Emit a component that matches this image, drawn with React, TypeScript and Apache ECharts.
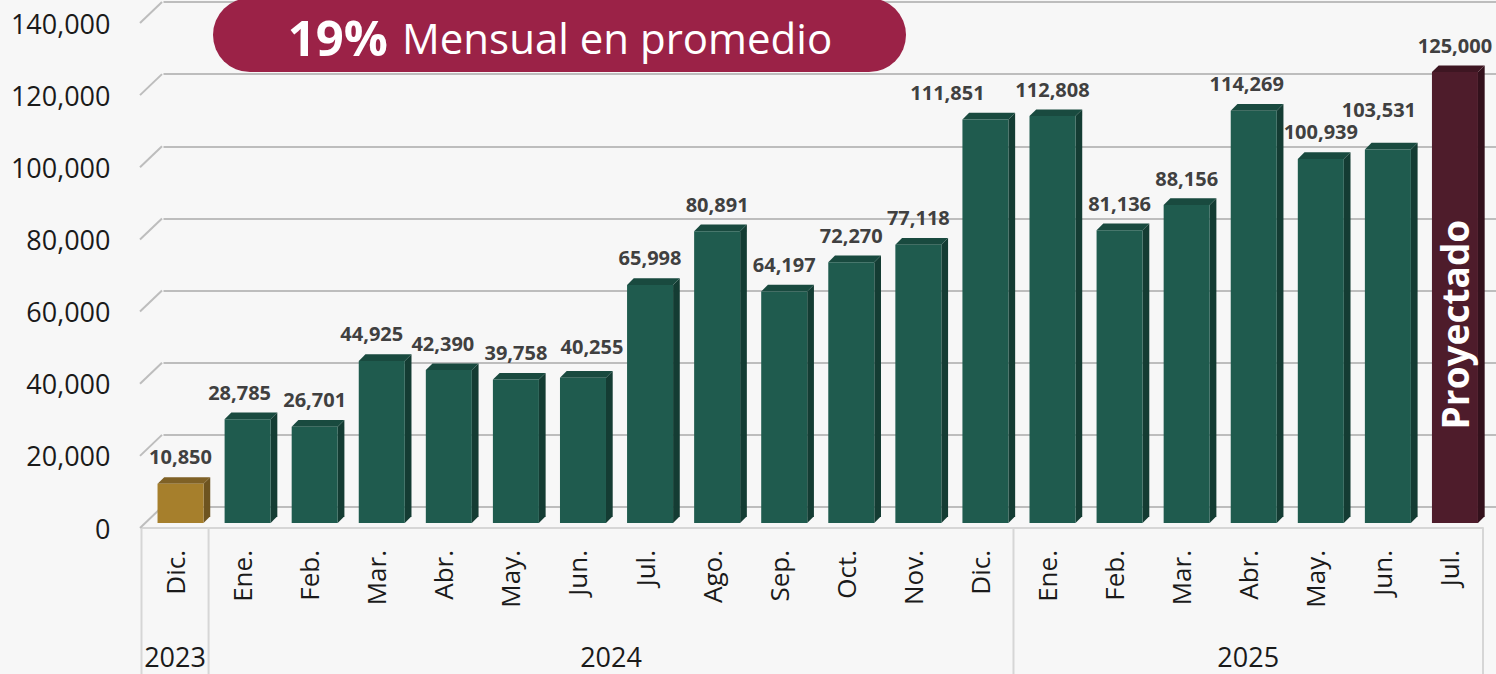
import React, { useEffect, useRef } from 'react';
import * as echarts from 'echarts';

const months = ['Dic.', 'Ene.', 'Feb.', 'Mar.', 'Abr.', 'May.', 'Jun.', 'Jul.', 'Ago.', 'Sep.', 'Oct.', 'Nov.', 'Dic.', 'Ene.', 'Feb.', 'Mar.', 'Abr.', 'May.', 'Jun.', 'Jul.'];
const values = [10850, 28785, 26701, 44925, 42390, 39758, 40255, 65998, 80891, 64197, 72270, 77118, 111851, 112808, 81136, 88156, 114269, 100939, 103531, 125000];
const kinds = ['base', 'real', 'real', 'real', 'real', 'real', 'real', 'real', 'real', 'real', 'real', 'real', 'real', 'real', 'real', 'real', 'real', 'real', 'real', 'proj'];
const years = ['2023', '2024', '2025'];
const yearStart = [0, 1, 13];
const yearEnd = [0, 12, 19];
const yTicks = [0, 20000, 40000, 60000, 80000, 100000, 120000, 140000];
const titleBold = '19%';
const titleRest = 'Mensual en promedio';
const projectedText = 'Proyectado';

// label nudges (px) to avoid overlaps, as in the original
const labelNudgeX: Record<number, number> = { 1: -8, 3: -10, 4: -6, 6: 9, 12: -38, 16: -7, 18: -9 };
const labelNudgeY: Record<number, number> = { 6: -4, 18: -13 };

const palette: Record<string, { front: string; side: string; top: string }> = {
  base: { front: '#a67f2c', side: '#6e5420', top: '#7f6126' },
  real: { front: '#1f5b4e', side: '#143c33', top: '#194a3f' },
  proj: { front: '#4e1c2b', side: '#33111c', top: '#3e1622' },
};

const FONT = "'Open Sans', 'Noto Sans', sans-serif";
const GRID_COLOR = '#bdbdbd';
const TABLE_COLOR = '#d6d6d6';

export default function App() {
  const ref = useRef<HTMLDivElement>(null);
  useEffect(() => {
    if (!ref.current) return;
    const chart = echarts.init(ref.current, null, { renderer: 'svg' });
    const DX = 22;
    const DY = 21;

    const barData = values.map((v, i) => [i, v, i]);
    const tickData = yTicks.map((t) => [0, t]);
    const yearData = years.map((y, i) => [yearStart[i], 0, yearEnd[i], i]);

    const option: any = {
      animation: false,
      backgroundColor: '#f7f7f7',
      textStyle: { fontFamily: FONT },
      grid: [
        { left: 141.5, right: 13, top: 23, bottom: 146 },
        { left: 141.5 + DX, right: 0, top: 23 - DY, bottom: 146 + DY },
      ],
      xAxis: [
        {
          type: 'category',
          gridIndex: 0,
          data: months,
          boundaryGap: true,
          axisLine: { show: true, lineStyle: { color: TABLE_COLOR, width: 2 } },
          axisTick: { show: false },
          axisLabel: { rotate: 90, margin: 22, fontSize: 26, color: '#1a1a1a', fontFamily: FONT },
        },
        { type: 'value', gridIndex: 1, show: false, min: 0, max: 1 },
      ],
      yAxis: [
        {
          type: 'value',
          gridIndex: 0,
          min: 0,
          max: 140000,
          interval: 20000,
          axisLine: { show: false },
          axisTick: { show: false },
          splitLine: { show: false },
          axisLabel: {
            margin: 31,
            fontSize: 27,
            color: '#1a1a1a',
            fontFamily: FONT,
            formatter: (v: number) => v.toLocaleString('en-US'),
          },
        },
        {
          type: 'value',
          gridIndex: 1,
          min: 0,
          max: 140000,
          interval: 20000,
          axisLine: { show: false },
          axisTick: { show: false },
          axisLabel: { show: false },
          splitLine: { show: true, lineStyle: { color: GRID_COLOR, width: 2 } },
        },
      ],
      series: [
        {
          type: 'custom',
          name: 'diagonals',
          xAxisIndex: 0,
          yAxisIndex: 0,
          clip: false,
          silent: true,
          data: tickData,
          encode: { x: 0, y: 1 },
          renderItem: (params: any, api: any) => {
            const p = api.coord([api.value(0), api.value(1)]);
            const band = api.size([1, 0])[0];
            const x0 = p[0] - band / 2 - 1.5;
            return {
              type: 'line',
              shape: { x1: x0, y1: p[1], x2: x0 + DX, y2: p[1] - DY },
              style: { stroke: GRID_COLOR, lineWidth: 2 },
            };
          },
          z: 1,
        },
        {
          type: 'custom',
          name: 'years',
          xAxisIndex: 0,
          yAxisIndex: 0,
          clip: false,
          silent: true,
          data: yearData,
          encode: { x: 0, y: 1 },
          renderItem: (params: any, api: any) => {
            const s = api.coord([api.value(0), 0]);
            const e = api.coord([api.value(2), 0]);
            const idx = api.value(3);
            const band = api.size([1, 0])[0];
            const left = s[0] - band / 2;
            const right = e[0] + band / 2;
            const y0 = s[1];
            const children: any[] = [
              {
                type: 'line',
                shape: { x1: left, y1: y0, x2: left, y2: y0 + 160 },
                style: { stroke: TABLE_COLOR, lineWidth: 2 },
              },
              {
                type: 'text',
                style: {
                  text: years[idx],
                  x: (left + right) / 2,
                  y: y0 + 128,
                  align: 'center',
                  verticalAlign: 'middle',
                  fill: '#1a1a1a',
                  font: `27px ${FONT}`,
                },
              },
            ];
            if (idx === years.length - 1) {
              children.push({
                type: 'line',
                shape: { x1: right, y1: y0, x2: right, y2: y0 + 160 },
                style: { stroke: TABLE_COLOR, lineWidth: 2 },
              });
            }
            return { type: 'group', children };
          },
          z: 2,
        },
        {
          type: 'custom',
          name: 'bars',
          xAxisIndex: 0,
          yAxisIndex: 0,
          clip: false,
          data: barData,
          encode: { x: 0, y: 1 },
          renderItem: (params: any, api: any) => {
            const i = api.value(0);
            const v = api.value(1);
            const base = api.coord([i, 0]);
            const top = api.coord([i, v]);
            const band = api.size([1, 0])[0];
            const w = band * 0.686;
            const d = band * 0.1;
            const cx = base[0] + band * 0.082;
            const shiftY = -5;
            const yb = base[1] + shiftY;
            const yt = top[1] + shiftY;
            const x = cx - w / 2;
            const c = palette[kinds[i]];
            const children: any[] = [
              {
                type: 'polygon',
                shape: { points: [[x + w, yt], [x + w + d, yt - d], [x + w + d, yb - d], [x + w, yb]] },
                style: { fill: c.side },
              },
              {
                type: 'polygon',
                shape: { points: [[x, yt], [x + d, yt - d], [x + w + d, yt - d], [x + w, yt]] },
                style: { fill: c.top },
              },
              {
                type: 'rect',
                shape: { x, y: yt, width: w, height: yb - yt },
                style: { fill: c.front },
              },
              {
                type: 'text',
                style: {
                  text: v.toLocaleString('en-US'),
                  x: cx + (labelNudgeX[i] || 0),
                  y: yt - 27 + (labelNudgeY[i] || 0),
                  align: 'center',
                  verticalAlign: 'middle',
                  fill: '#404040',
                  font: `bold 20px ${FONT}`,
                },
              },
            ];
            if (kinds[i] === 'proj') {
              children.push({
                type: 'text',
                x: cx,
                y: yb - 0.44 * (yb - yt),
                rotation: Math.PI / 2,
                style: {
                  text: projectedText,
                  x: 0,
                  y: 0,
                  align: 'center',
                  verticalAlign: 'middle',
                  fill: '#ffffff',
                  font: `bold 37px ${FONT}`,
                },
              });
            }
            return { type: 'group', children };
          },
          z: 3,
        },
      ],
      graphic: [
        {
          type: 'rect',
          shape: { x: 213, y: -2, width: 693, height: 74, r: 37 },
          style: { fill: '#9b2247' },
          z: 10,
        },
        {
          type: 'text',
          z: 11,
          style: {
            text: `{b|${titleBold}}{r|${titleRest}}`,
            x: 560,
            y: 37,
            align: 'center',
            verticalAlign: 'middle',
            rich: {
              b: { fontSize: 49, fontWeight: 'bold', fill: '#ffffff', fontFamily: FONT, padding: [0, 14, 0, 0] },
              r: { fontSize: 42, fill: '#ffffff', fontFamily: FONT },
            },
          },
        },
      ],
    };
    chart.setOption(option);
    return () => chart.dispose();
  }, []);
  return <div ref={ref} style={{ position: 'fixed', left: 0, top: 0, width: 1496, height: 674 }} />;
}
